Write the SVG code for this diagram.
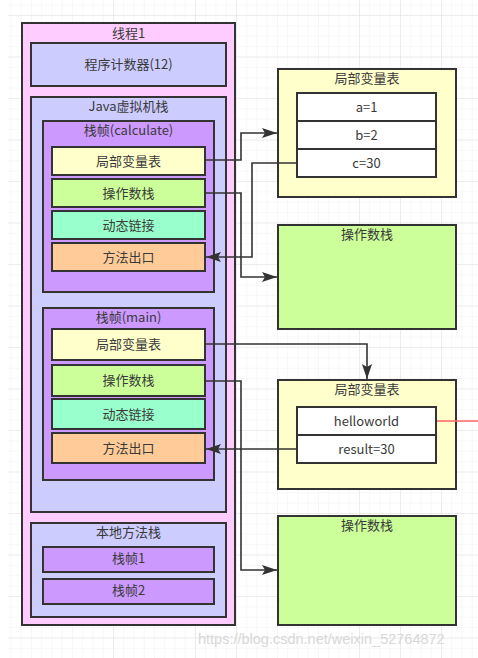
<svg xmlns="http://www.w3.org/2000/svg" width="478" height="658" viewBox="0 0 478 658">
<style>
.b{stroke:#333;stroke-width:2}
.t{font-family:"Noto Sans CJK SC","Liberation Sans",sans-serif;font-size:13px;fill:#3a3a3a;text-anchor:middle}
.c{fill:none;stroke:#333;stroke-width:1.6}
.pink{fill:#FFCCFF}.blue{fill:#CCCCFF}.purp{fill:#CC99FF}.yel{fill:#FFFFCC}.grn{fill:#CCFF99}.cyan{fill:#99FFCC}.org{fill:#FFCC99}.wht{fill:#FFFFFF}
</style>
<defs>
<pattern id="minor" x="-10" y="15" width="10.25" height="10.375" patternUnits="userSpaceOnUse">
<path d="M0 0H10.25M0 0V10.375" stroke="#f1f1f1" stroke-width="1" fill="none"/>
</pattern>
<pattern id="major" x="-10" y="15" width="41" height="41.5" patternUnits="userSpaceOnUse">
<path d="M0 0H41M0 0V41.5" stroke="#e2e2e2" stroke-width="1" fill="none"/>
</pattern>
<marker id="ah" viewBox="0 0 15 10" refX="15" refY="5" markerWidth="15" markerHeight="10" markerUnits="userSpaceOnUse" orient="auto">
<path d="M0 0L15 5L0 10L3 5Z" fill="#333"/>
</marker>
</defs>
<rect width="478" height="658" fill="#fff"/>
<rect x="8" y="0" width="470" height="658" fill="url(#minor)"/>
<rect x="8" y="0" width="470" height="658" fill="url(#major)"/>

<g id="thread1">
<rect class="b pink" x="22" y="23" width="213" height="602"/>
<text class="t" x="128.5" y="38">线程1</text>
</g>
<g id="pc">
<rect class="b blue" x="31" y="43" width="195" height="43"/>
<text class="t" x="128.5" y="69">程序计数器(12)</text>
</g>
<g id="jvmstack">
<rect class="b blue" x="31" y="97" width="195" height="415"/>
<text class="t" x="128.5" y="111">Java虚拟机栈</text>
</g>
<g id="frame-calc">
<rect class="b purp" x="43" y="121" width="171" height="171"/>
<text class="t" x="128.5" y="135">栈帧(calculate)</text>
</g>
<g id="calc-lvt"><rect class="b yel" x="52" y="147" width="153" height="28"/><text class="t" x="128.5" y="165.5">局部变量表</text></g>
<g id="calc-ops"><rect class="b grn" x="52" y="179" width="153" height="28"/><text class="t" x="128.5" y="197.5">操作数栈</text></g>
<g id="calc-dyn"><rect class="b cyan" x="52" y="211" width="153" height="28"/><text class="t" x="128.5" y="229.5">动态链接</text></g>
<g id="calc-exit"><rect class="b org" x="52" y="243" width="153" height="28"/><text class="t" x="128.5" y="261.5">方法出口</text></g>

<g id="frame-main">
<rect class="b purp" x="43" y="308" width="171" height="172"/>
<text class="t" x="128.5" y="322">栈帧(main)</text>
</g>
<g id="main-lvt"><rect class="b yel" x="52" y="329" width="153" height="31"/><text class="t" x="128.5" y="349">局部变量表</text></g>
<g id="main-ops"><rect class="b grn" x="52" y="365" width="153" height="31"/><text class="t" x="128.5" y="385">操作数栈</text></g>
<g id="main-dyn"><rect class="b cyan" x="52" y="399" width="153" height="30"/><text class="t" x="128.5" y="418.5">动态链接</text></g>
<g id="main-exit"><rect class="b org" x="52" y="433" width="153" height="30"/><text class="t" x="128.5" y="452.5">方法出口</text></g>

<g id="native">
<rect class="b blue" x="31" y="523" width="195" height="94"/>
<text class="t" x="128.5" y="537">本地方法栈</text>
</g>
<g id="nframe1"><rect class="b purp" x="43" y="547" width="171" height="25"/><text class="t" x="128.5" y="563">栈帧1</text></g>
<g id="nframe2"><rect class="b purp" x="43" y="579" width="171" height="25"/><text class="t" x="128.5" y="595">栈帧2</text></g>

<g id="lvt1">
<rect class="b yel" x="278" y="69" width="178" height="128"/>
<text class="t" x="367" y="83">局部变量表</text>
<rect class="b wht" x="297" y="93" width="139" height="28"/><text class="t" x="366.5" y="111.5">a=1</text>
<rect class="b wht" x="297" y="121" width="139" height="28"/><text class="t" x="366.5" y="139.5">b=2</text>
<rect class="b wht" x="297" y="149" width="139" height="28"/><text class="t" x="366.5" y="167.5">c=30</text>
</g>
<g id="ops1">
<rect class="b grn" x="278" y="225" width="178" height="104"/>
<text class="t" x="367" y="239">操作数栈</text>
</g>
<g id="lvt2">
<rect class="b yel" x="278" y="380" width="178" height="109"/>
<text class="t" x="367" y="394">局部变量表</text>
<rect class="b wht" x="297" y="407" width="139" height="28"/><text class="t" x="366.5" y="425.5">helloworld</text>
<rect class="b wht" x="297" y="435" width="139" height="28"/><text class="t" x="366.5" y="453.5">result=30</text>
</g>
<g id="ops2">
<rect class="b grn" x="278" y="516" width="178" height="109"/>
<text class="t" x="367" y="530">操作数栈</text>
</g>

<g id="connectors">
<path class="c" d="M205 160H241V133H277" marker-end="url(#ah)"/>
<path class="c" d="M297 163H252V257H206" marker-end="url(#ah)"/>
<path class="c" d="M205 193H241V277H277" marker-end="url(#ah)"/>
<path class="c" d="M205 344H367V379" marker-end="url(#ah)"/>
<path class="c" d="M205 381H241V570H277" marker-end="url(#ah)"/>
<path class="c" d="M297 449H206" marker-end="url(#ah)"/>
<path d="M437 421H478" stroke="#FF6666" stroke-width="1.6" fill="none"/>
</g>
<text x="198" y="644" font-family="Liberation Sans, sans-serif" font-size="14.5" fill="#d8d8d8">https://blog.csdn.net/weixin_52764872</text>
</svg>
